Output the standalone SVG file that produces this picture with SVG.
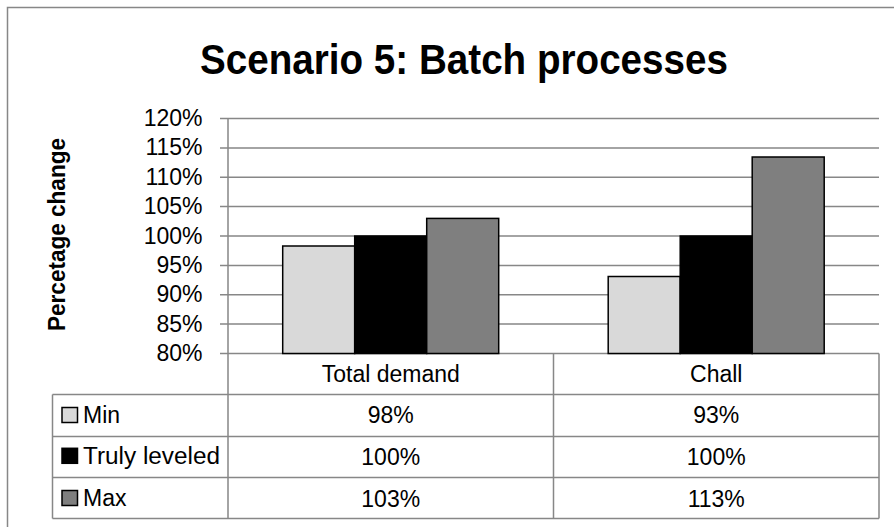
<svg xmlns="http://www.w3.org/2000/svg" width="894" height="527" viewBox="0 0 894 527">
<style>
.grid{stroke:#878787;stroke-width:1.5;fill:none}
.bar{stroke:#000;stroke-width:1.5}
.lt{fill:#d9d9d9}.bk{fill:#000}.gy{fill:#7f7f7f}
.tick{font-family:"Liberation Sans",Arial,sans-serif;font-size:23px;fill:#000;text-anchor:end}
.cell{font-family:"Liberation Sans",Arial,sans-serif;font-size:23px;fill:#000;text-anchor:middle}
.leg{font-family:"Liberation Sans",Arial,sans-serif;font-size:23px;fill:#000}
.sw{stroke:#000;stroke-width:1.5}
</style>
<rect x="0" y="0" width="894" height="527" fill="#fff"/>
<rect x="7.5" y="7.5" width="900" height="530" class="grid"/>
<g id="title">
<text x="464" y="73.5" font-family="'Liberation Sans',Arial,sans-serif" font-size="42.5" font-weight="bold" text-anchor="middle" textLength="528" lengthAdjust="spacingAndGlyphs">Scenario 5: Batch processes</text>
</g>
<g id="y-axis-title">
<text transform="translate(65,234.5) rotate(-90)" font-family="'Liberation Sans',Arial,sans-serif" font-size="23" font-weight="bold" text-anchor="middle" textLength="193" lengthAdjust="spacingAndGlyphs">Percetage change</text>
</g>
<g id="gridlines">
<path class="grid" d="M220 118.5H879M220 147.9H879M220 177.25H879M220 206.6H879M220 236H879M220 265.4H879M220 294.75H879M220 324.1H879M220 353.5H879"/>
</g>
<g id="y-ticks">
<text class="tick" x="202.5" y="126">120%</text>
<text class="tick" x="202.5" y="155.4">115%</text>
<text class="tick" x="202.5" y="184.75">110%</text>
<text class="tick" x="202.5" y="214.1">105%</text>
<text class="tick" x="202.5" y="243.5">100%</text>
<text class="tick" x="202.5" y="272.9">95%</text>
<text class="tick" x="202.5" y="302.25">90%</text>
<text class="tick" x="202.5" y="331.6">85%</text>
<text class="tick" x="202.5" y="361">80%</text>
</g>
<g id="bars-total-demand">
<rect class="bar lt" x="282.7" y="246" width="72" height="107.5"/>
<rect class="bar bk" x="354.7" y="236" width="72" height="117.5"/>
<rect class="bar gy" x="426.7" y="218.4" width="72" height="135.1"/>
</g>
<g id="bars-chall">
<rect class="bar lt" x="608.2" y="276.5" width="72" height="77"/>
<rect class="bar bk" x="680.2" y="236" width="72" height="117.5"/>
<rect class="bar gy" x="752.2" y="157" width="72" height="196.5"/>
</g>
<g id="data-table">
<path class="grid" d="M228 118.5V518.5M553.5 353.5V518.5M879 353.5V518.5M52.5 394.5V518.5M52.5 394.5H879M52.5 436.5H879M52.5 477.5H879M52.5 518.5H879"/>
<text class="cell" x="390.75" y="381.5">Total demand</text>
<text class="cell" x="716.25" y="381.5">Chall</text>
<text class="cell" x="390.75" y="423.3">98%</text>
<text class="cell" x="716.25" y="423.3">93%</text>
<text class="cell" x="390.75" y="465">100%</text>
<text class="cell" x="716.25" y="465">100%</text>
<text class="cell" x="390.75" y="506.5">103%</text>
<text class="cell" x="716.25" y="506.5">113%</text>
</g>
<g id="legend-min">
<rect class="sw lt" x="62" y="407.5" width="15.5" height="15"/>
<text class="leg" x="83" y="422.8">Min</text>
</g>
<g id="legend-truly-leveled">
<rect class="sw bk" x="62" y="448.3" width="15.5" height="15"/>
<text class="leg" x="83" y="463.5" textLength="137" lengthAdjust="spacingAndGlyphs">Truly leveled</text>
</g>
<g id="legend-max">
<rect class="sw gy" x="62" y="490.5" width="15.5" height="15"/>
<text class="leg" x="83" y="506">Max</text>
</g>
</svg>
